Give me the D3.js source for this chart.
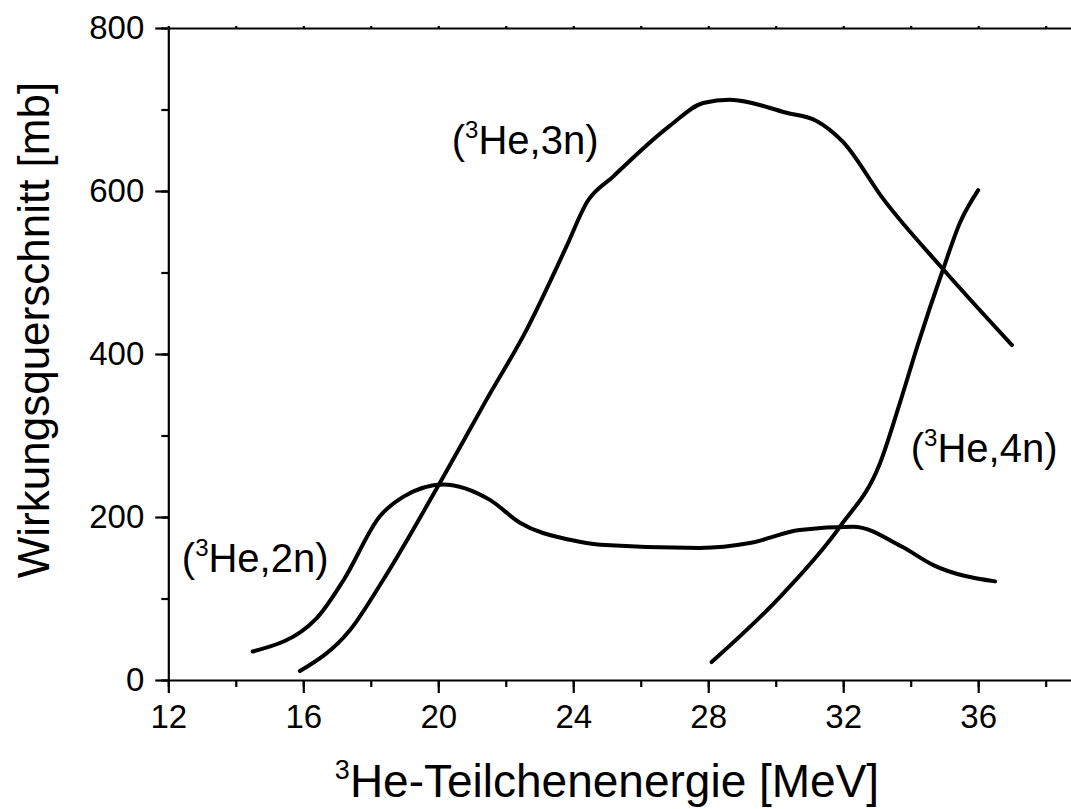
<!DOCTYPE html>
<html>
	<head>
		<meta charset="utf-8">
		<title>Wirkungsquerschnitt</title>
		<style>
			body {
			  margin: 0;
			  background: #fff;
			  overflow: hidden;
			}
			svg {
			  position: absolute;
			  font-family: "Liberation Sans", Arial, sans-serif;
			}
		</style>
		<script src="https://cdn.jsdelivr.net/npm/d3@7/dist/d3.min.js" charset="utf-8"></script>
	</head>
	<body>
		<script>

		// curves: energy [MeV] and cross section [mb]
		var he2nE = [14.5, 16.4, 17.2, 18.27, 18.97, 20.15, 21.53, 22.42, 23.9, 24.8, 27.75, 29.23, 30.71, 32.3, 33.72, 34.67, 36.5];
		var he2nS = [35, 76, 123, 201, 225, 240, 221, 193, 172, 166, 162, 168, 184, 188, 164, 141, 121];

		var he3nE = [15.9, 17.38, 18.37, 20.05, 21.43, 22.62, 23.8, 24.4, 25.19, 26.86, 27.85, 28.64, 30.32, 31.21, 32.0, 33.19, 34.96, 37.0];
		var he3nS = [11, 61, 123, 242, 344, 430, 532, 586, 618, 680, 708, 712, 696, 686, 660, 590, 504, 411];

		var he4nE = [28.1, 30.22, 31.9, 33.09, 33.68, 34.2, 34.96, 35.46, 36.0];
		var he4nS = [22, 106, 188, 266, 340, 410, 504, 561, 601];

		var xTicks = [12, 16, 20, 24, 28, 32, 36];
		var yTicks = [0, 200, 400, 600, 800];

		var labels = [
			{x: 12.4, y: 133, text: "He,2n)"},
			{x: 20.4, y: 645, text: "He,3n)"},
			{x: 34.0, y: 268, text: "He,4n)"}
		];

		var w = 1071,
			h = 809;

		var svg = d3.select("body").append("svg")
					.attr("width", w)
					.attr("height", h);

		var x = d3.scaleLinear().domain([12, 38.75]).range([168.3, 1071]);
		var y = d3.scaleLinear().domain([0, 800]).range([680, 28]);

		// bottom axis, major + minor ticks
		var xMinor = d3.range(12, 39, 2);
		svg.append("g")
			.attr("transform", "translate(0," + y(0) + ")")
			.call(d3.axisBottom(x).tickValues(xMinor).tickSize(7).tickFormat(""))
			.call(function(g){ g.select(".domain").remove(); });
		svg.append("g")
			.attr("class", "xaxis")
			.attr("transform", "translate(0," + y(0) + ")")
			.call(d3.axisBottom(x).tickValues(xTicks).tickSize(13).tickSizeOuter(0).tickPadding(12).tickFormat(d3.format("d")));

		// top axis, tiny ticks only
		svg.append("g")
			.attr("transform", "translate(0," + y(800) + ")")
			.call(d3.axisTop(x).tickValues(xMinor).tickSize(2).tickSizeOuter(0).tickFormat(""));

		// left axis
		svg.append("g")
			.attr("transform", "translate(" + x(12) + ",0)")
			.call(d3.axisLeft(y).tickValues(d3.range(0, 801, 100)).tickSize(7).tickFormat(""))
			.call(function(g){ g.select(".domain").remove(); });
		svg.append("g")
			.attr("class", "yaxis")
			.attr("transform", "translate(" + x(12) + ",0)")
			.call(d3.axisLeft(y).tickValues(yTicks).tickSize(13).tickSizeOuter(0).tickPadding(11));

		svg.selectAll(".domain").attr("stroke", "#000").attr("stroke-width", 2.2);
		svg.selectAll(".tick line").attr("stroke", "#000").attr("stroke-width", 2.2);
		svg.selectAll(".tick text")
			.attr("fill", "#000")
			.attr("font-size", "33px")
			.attr("font-family", "'Liberation Sans', Arial, sans-serif");

		// axis titles
		var xt = svg.append("text")
			.attr("x", 607)
			.attr("y", 797)
			.attr("text-anchor", "middle")
			.attr("font-size", "46px");
		xt.append("tspan").attr("font-size", "27px").attr("dy", "-18").text("3");
		xt.append("tspan").attr("dy", "18").text("He-Teilchenenergie [MeV]");

		svg.append("text")
			.attr("transform", "translate(49,330) rotate(-90)")
			.attr("text-anchor", "middle")
			.attr("font-size", "44px")
			.text("Wirkungsquerschnitt [mb]");

		// curves
		var line = d3.line()
			.x(function(d){ return x(d[0]); })
			.y(function(d){ return y(d[1]); })
			.curve(d3.curveMonotoneX);

		[[he2nE, he2nS], [he3nE, he3nS], [he4nE, he4nS]].forEach(function(s){
			svg.append("path")
				.datum(d3.zip(s[0], s[1]))
				.attr("fill", "none")
				.attr("stroke", "#000")
				.attr("stroke-width", 4)
				.attr("stroke-linecap", "round")
				.attr("d", line);
		});

		// reaction labels
		labels.forEach(function(l){
			var t = svg.append("text")
				.attr("x", x(l.x))
				.attr("y", y(l.y))
				.attr("font-size", "40px");
			t.append("tspan").text("(");
			t.append("tspan").attr("font-size", "24px").attr("dy", "-16").text("3");
			t.append("tspan").attr("dy", "16").text(l.text);
		});

		</script>
	</body>
</html>
